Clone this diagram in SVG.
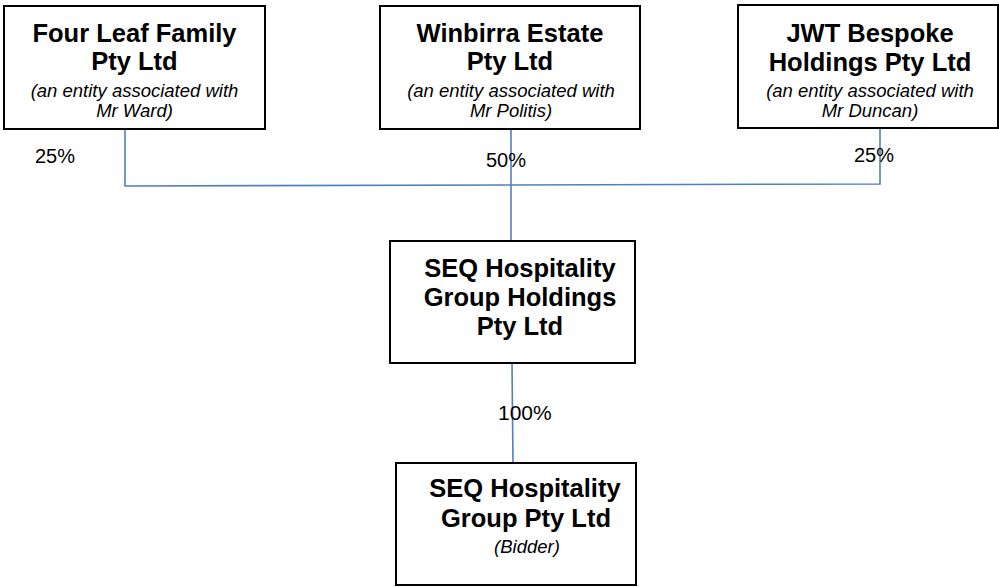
<svg xmlns="http://www.w3.org/2000/svg" width="999" height="587" viewBox="0 0 999 587">
<style>
.box{fill:#fff;stroke:#000;stroke-width:2}
.t{font-family:"Liberation Sans",Arial,sans-serif;font-weight:bold;font-size:25.5px;text-anchor:middle;fill:#000}
.s{font-family:"Liberation Sans",Arial,sans-serif;font-style:italic;font-size:18.5px;text-anchor:middle;fill:#000}
.p{font-family:"Liberation Sans",Arial,sans-serif;font-size:20px;fill:#000}
.c{fill:none;stroke:#4F81BD;stroke-width:1.6}
</style>
<rect width="999" height="587" fill="#fff"/>
<g id="connectors">
<polyline class="c" points="125,130 125,186 880,184 880,128"/>
<line class="c" x1="511" y1="130" x2="511" y2="241"/>
<line class="c" x1="512" y1="364" x2="513" y2="463"/>
</g>
<g id="labels">
<text class="p" x="35" y="163">25%</text>
<text class="p" x="486" y="167">50%</text>
<text class="p" x="854" y="162">25%</text>
<text class="p" x="498" y="420" style="font-size:21px">100%</text>
</g>
<g id="four-leaf">
<rect class="box" x="4" y="6" width="261" height="123"/>
<text class="t" x="134.5" y="42">Four Leaf Family</text>
<text class="t" x="134.5" y="70">Pty Ltd</text>
<text class="s" x="134.5" y="97">(an entity associated with</text>
<text class="s" x="134.5" y="117">Mr Ward)</text>
</g>
<g id="winbirra">
<rect class="box" x="380" y="6" width="260" height="123"/>
<text class="t" x="510" y="42">Winbirra Estate</text>
<text class="t" x="510" y="70">Pty Ltd</text>
<text class="s" x="511" y="97">(an entity associated with</text>
<text class="s" x="511" y="117">Mr Politis)</text>
</g>
<g id="jwt">
<rect class="box" x="738" y="5" width="260" height="123"/>
<text class="t" x="870" y="42">JWT Bespoke</text>
<text class="t" x="870" y="71">Holdings Pty Ltd</text>
<text class="s" x="870" y="97">(an entity associated with</text>
<text class="s" x="870" y="117">Mr Duncan)</text>
</g>
<g id="seq-holdings">
<rect class="box" x="390" y="241" width="245" height="122"/>
<text class="t" x="520" y="277">SEQ Hospitality</text>
<text class="t" x="520" y="306">Group Holdings</text>
<text class="t" x="520" y="335">Pty Ltd</text>
</g>
<g id="seq-bidder">
<rect class="box" x="396" y="463" width="240" height="122"/>
<text class="t" x="525" y="497">SEQ Hospitality</text>
<text class="t" x="526" y="527">Group Pty Ltd</text>
<text class="s" x="527" y="553">(Bidder)</text>
</g>
</svg>
